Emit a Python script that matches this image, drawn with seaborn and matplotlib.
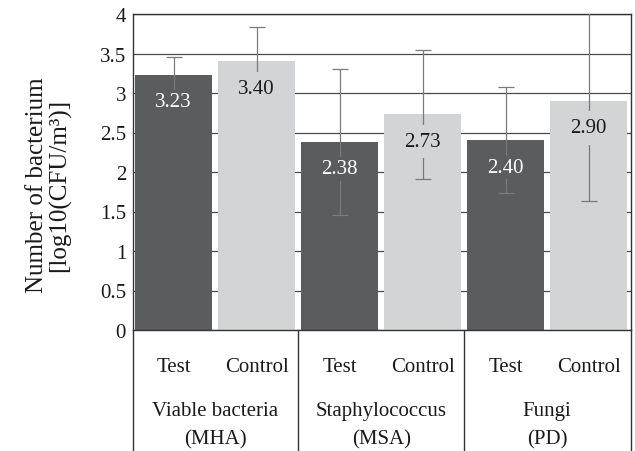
import matplotlib
matplotlib.use("Agg")
import matplotlib.pyplot as plt
import matplotlib.transforms as mtransforms
import seaborn as sns
import pandas as pd

# ---- data ----
groups = ["Viable bacteria\n(MHA)", "Staphylococcus\n(MSA)", "Fungi\n(PD)"]
series = ["Test", "Control"]
test_values = [3.23, 2.38, 2.40]
control_values = [3.40, 2.73, 2.90]
test_errors = [0.22, 0.93, 0.67]
control_errors = [0.44, 0.82, 1.27]
y_ticks = [0, 0.5, 1, 1.5, 2, 2.5, 3, 3.5, 4]
y_tick_labels = ["0", "0.5", "1", "1.5", "2", "2.5", "3", "3.5", "4"]
y_label = "Number of bacterium\n[log10(CFU/m³)]"

sns.set_theme(style="white")
plt.rcParams['font.family'] = ['Liberation Serif', 'DejaVu Serif']

df = pd.DataFrame({
    "group": groups * 2,
    "series": [series[0]] * len(groups) + [series[1]] * len(groups),
    "value": test_values + control_values,
})
errors = {series[0]: test_errors, series[1]: control_errors}
values = {series[0]: test_values, series[1]: control_values}

dark = "#5b5c5e"
light = "#d3d4d6"
colors = {series[0]: dark, series[1]: light}
text_colors = {series[0]: "white", series[1]: "#1a1a1a"}
box_pad = {series[0]: 0.1, series[1]: 0.35}

fig = plt.figure(figsize=(6.35, 4.52), dpi=100)
ax = fig.add_axes([133 / 635, 1 - 331 / 452, (631 - 133) / 635, 316 / 452])

sns.barplot(data=df, x="group", y="value", hue="series", order=groups,
            hue_order=series, palette=[dark, light], width=1.0, gap=0.08,
            errorbar=None, saturation=1, linewidth=0, legend=False, ax=ax)

ax.set_xlim(-0.495, 2.505)
ax.set_ylim(0, 4)
ax.set_yticks(y_ticks)
ax.set_yticklabels(y_tick_labels, fontsize=15, color="#1a1a1a")
ax.tick_params(axis="y", length=0, pad=5)
ax.set_xticks([])
ax.set_xlabel("")
ax.set_ylabel("")
ax.yaxis.grid(True, color="#4a4a4a", lw=0.9)
ax.set_axisbelow(True)
for s in ax.spines.values():
    s.set_visible(True)
    s.set_color("#333333")
    s.set_linewidth(1.0)

trans = mtransforms.blended_transform_factory(ax.transData, ax.transAxes)

for name, cont in zip(series, ax.containers):
    for bar, v, e in zip(cont, values[name], errors[name]):
        x = bar.get_x() + bar.get_width() / 2
        ax.errorbar(x, bar.get_height(), yerr=e, fmt="none", ecolor="#7a7a7a",
                    elinewidth=0.9, capsize=5.5, capthick=0.9, zorder=3)
        ax.annotate(f"{v:.2f}", xy=(x, bar.get_height()), xytext=(0, -27 * 0.72),
                    textcoords="offset points", ha="center", va="center",
                    fontsize=15, color=text_colors[name], zorder=5,
                    bbox=dict(boxstyle=f"square,pad={box_pad[name]}",
                              fc=colors[name], ec="none"))
        ax.text(x, -0.114, name, transform=trans, ha="center", va="center",
                fontsize=15, color="#1a1a1a")

for i, g in enumerate(groups):
    ax.text(i, -0.30, g, transform=trans, ha="center", va="center",
            fontsize=15, color="#1a1a1a", linespacing=1.7, multialignment="center")

xl = ax.get_xlim()
for xb in [xl[0]] + [i + 0.5 for i in range(len(groups) - 1)] + [xl[1]]:
    ax.plot([xb, xb], [0, -0.4], transform=trans, clip_on=False,
            color="#333333", lw=1.0)

fig.text(48.5 / 635, 1 - 185 / 452, y_label, rotation=90, ha="center", va="center",
         fontsize=18, color="#1a1a1a", linespacing=1.0, multialignment="center")

fig.savefig("out.png", dpi=100)
